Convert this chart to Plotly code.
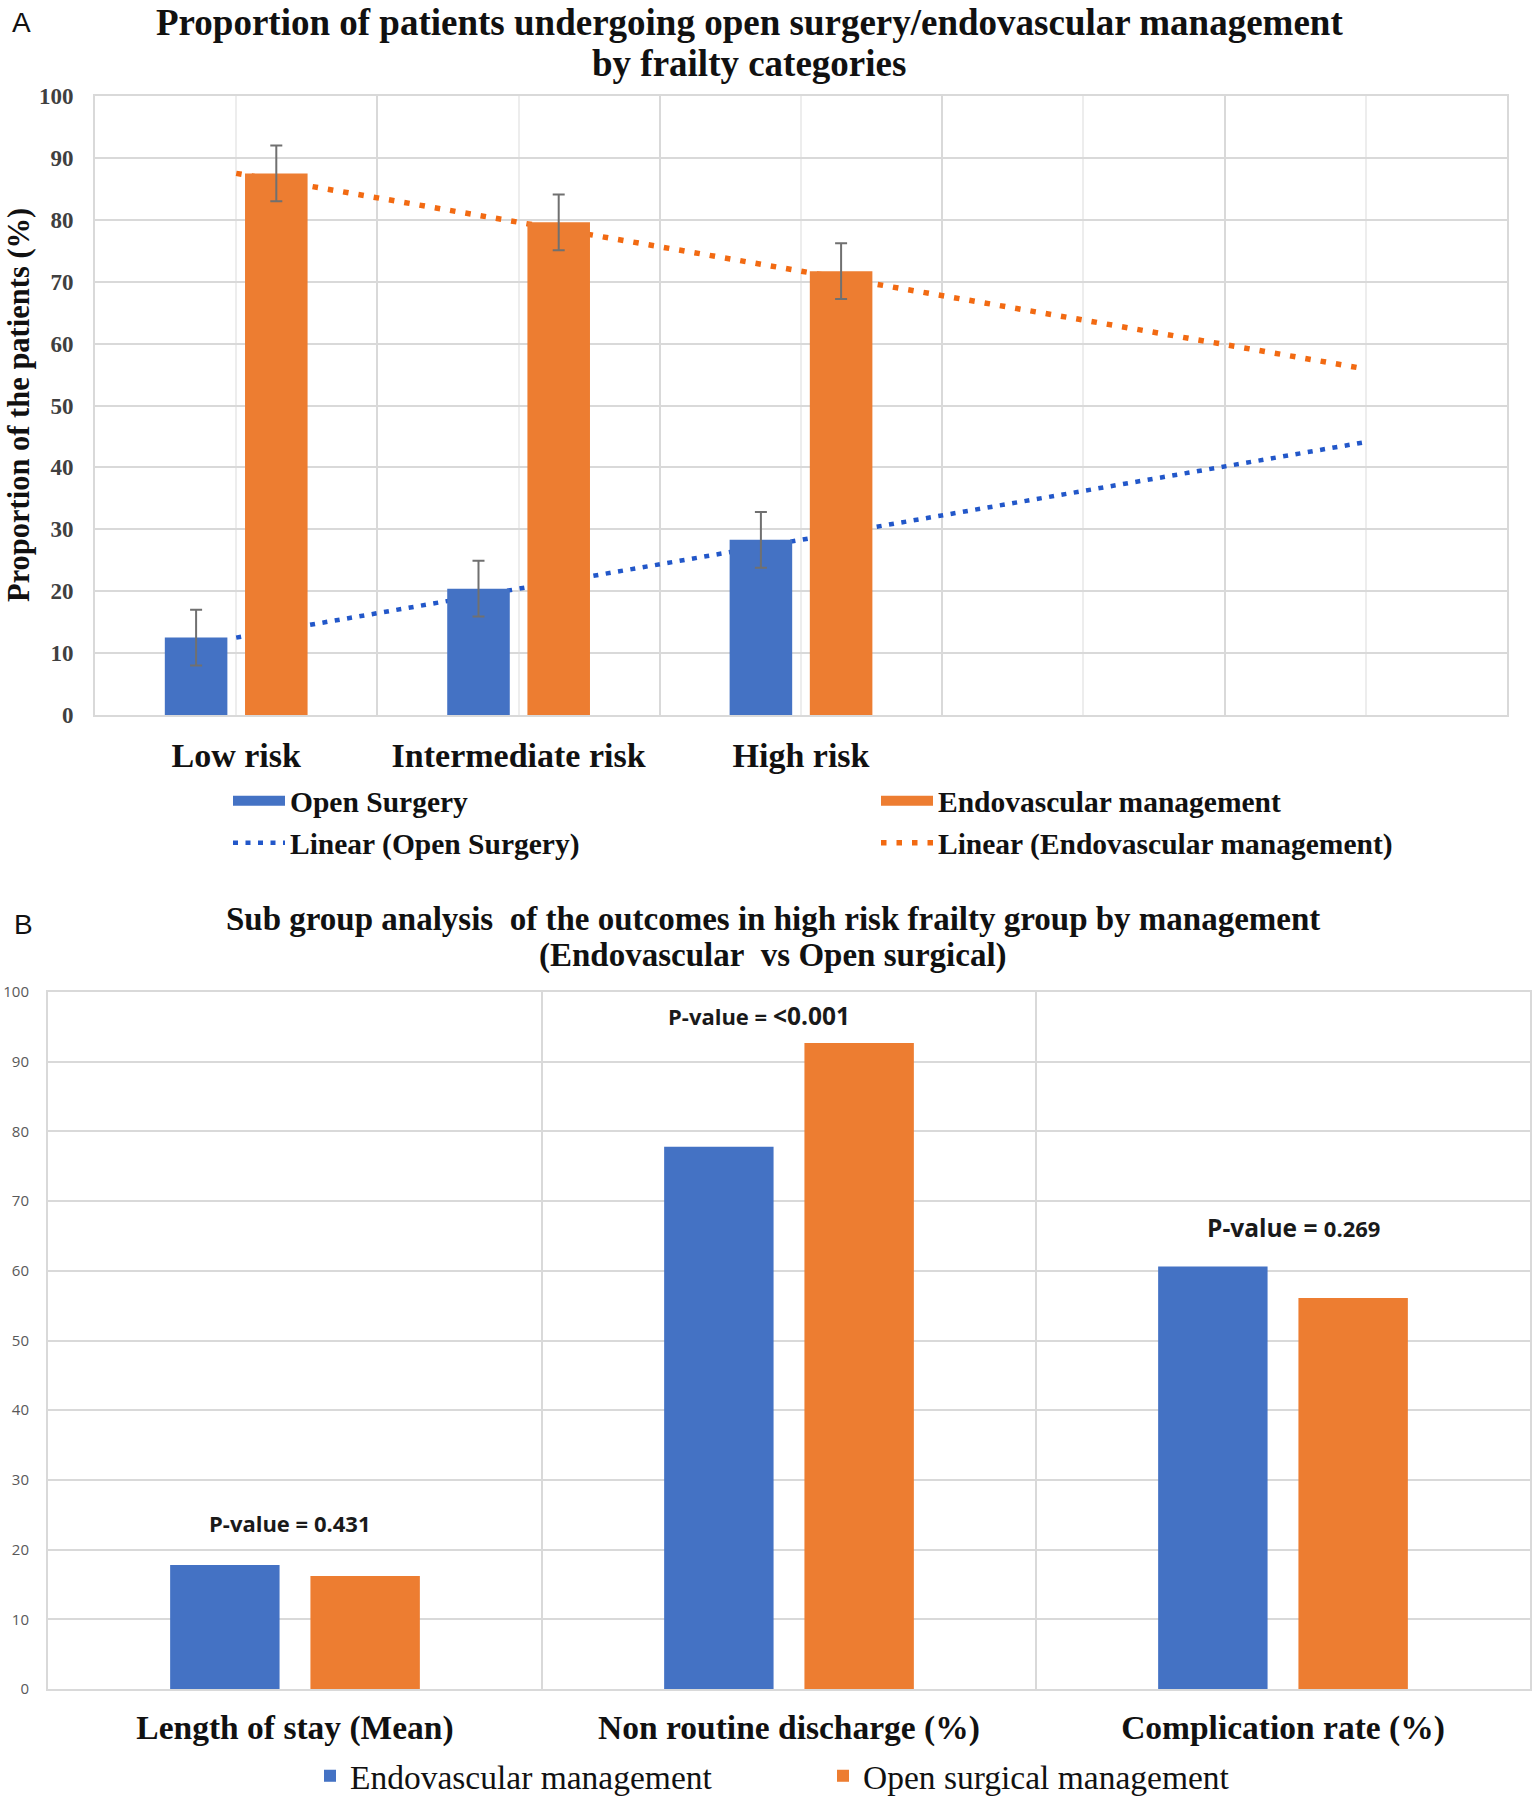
import numpy as np
import plotly.graph_objects as go

# ---------------- Panel A data ----------------
risk_categories = ["Low risk", "Intermediate risk", "High risk"]
open_surgery = [12.5, 20.4, 28.3]
endovascular = [87.5, 79.6, 71.7]
open_surgery_err = [4.5, 4.5, 4.5]
endovascular_err = [4.5, 4.5, 4.5]
n_slots = 5  # category slots on the axis (trendline forecast reaches slot 5)
y_ticks_a = list(range(0, 101, 10))

# ---------------- Panel B data ----------------
outcome_categories = ["Length of stay (Mean)", "Non routine discharge (%)", "Complication rate (%)"]
endo_outcomes = [17.8, 77.8, 60.6]
open_outcomes = [16.2, 92.7, 56.1]
p_values = ["0.431", "&lt;0.001", "0.269"]
p_label_y = [23.8, 96.7, 66.2]
p_label_shift = [-6, -30, 10]
p_label_size = [22, 22, 24.5]
p_value_size = [22, 24.5, 22]

# ---------------- style ----------------
W, H = 1533, 1800
BLUE = "#4472C4"
ORANGE = "#ED7D31"
BLUE_TREND = "#2257C9"
ORANGE_TREND = "#F26A12"
GRID = "#D9D9D9"
GRID_LIGHT = "#EDEDED"
SERIF = "Liberation Serif"
SANS = "Liberation Sans"
PSANS = "Open Sans"


def px_x(v):
    return v / W


def px_y(v):
    return 1 - v / H


fig = go.Figure()

# trendlines (computed linear fits) on base axes, drawn beneath bars
xs = np.arange(1, len(risk_categories) + 1)
slots = np.arange(1, n_slots + 1)
b_open = np.polyfit(xs, open_surgery, 1)
b_endo = np.polyfit(xs, endovascular, 1)

fig.add_trace(go.Scatter(x=[None], y=[None], mode="lines", name="Open Surgery",
                         line=dict(color=BLUE, width=17), legend="legend",
                         xaxis="x", yaxis="y"))
fig.add_trace(go.Scatter(x=[None], y=[None], mode="lines", name="Endovascular management",
                         line=dict(color=ORANGE, width=17), legend="legend2",
                         xaxis="x", yaxis="y"))
fig.add_trace(go.Scatter(x=slots, y=np.polyval(b_open, slots), mode="lines",
                         name="Linear (Open Surgery)", legend="legend3",
                         line=dict(color=BLUE_TREND, width=4.5, dash="5px,7.5px"),
                         xaxis="x", yaxis="y"))
fig.add_trace(go.Scatter(x=slots, y=np.polyval(b_endo, slots), mode="lines",
                         name="Linear (Endovascular management)", legend="legend4",
                         line=dict(color=ORANGE_TREND, width=5.5, dash="5.5px,10px"),
                         xaxis="x", yaxis="y"))

# bars on overlay axes (drawn above trendlines)
err_style = dict(type="data", visible=True, color="#707070", thickness=2, width=6)
fig.add_trace(go.Bar(x=xs, y=open_surgery, name="Open Surgery", marker_color=BLUE,
                     error_y=dict(array=open_surgery_err, **err_style),
                     showlegend=False, xaxis="x3", yaxis="y3"))
fig.add_trace(go.Bar(x=xs, y=endovascular, name="Endovascular management", marker_color=ORANGE,
                     error_y=dict(array=endovascular_err, **err_style),
                     showlegend=False, xaxis="x3", yaxis="y3"))

# Panel B bars
fig.add_trace(go.Bar(x=outcome_categories, y=endo_outcomes, name="Endovascular management",
                     marker_color=BLUE, legend="legend5", xaxis="x2", yaxis="y2"))
fig.add_trace(go.Bar(x=outcome_categories, y=open_outcomes, name="Open surgical management",
                     marker_color=ORANGE, legend="legend6", xaxis="x2", yaxis="y2"))

dom_ax = [px_x(95), px_x(1507)]
dom_ay = [px_y(715), px_y(96)]
dom_bx = [px_x(48), px_x(1530)]
dom_by = [px_y(1689), px_y(992)]


def paper_text(text, x, y, family, size, angle=0):
    return dict(text=text, x=px_x(x), y=px_y(y), xref="paper", yref="paper",
                xanchor="center", yanchor="middle", showarrow=False, textangle=angle,
                font=dict(family=family, size=size, color="#111111"))


annotations = [
    paper_text("A", 21, 22, SANS, 28),
    paper_text("<b>Proportion of patients undergoing open surgery/endovascular management</b>",
               749, 22, SERIF, 37),
    paper_text("<b>by frailty categories</b>", 749, 63, SERIF, 37),
    paper_text("<b>Proportion of the patients (%)</b>", 19, 405, SERIF, 30.5, angle=-90),
    paper_text("B", 23, 924, SANS, 28),
    paper_text("<b>Sub group analysis\u00a0 of the outcomes in high risk frailty group by management</b>",
               773, 919, SERIF, 33),
    paper_text("<b>(Endovascular\u00a0 vs Open surgical)</b>", 773, 955, SERIF, 33),
]
for cat, pv, yv, sh, lsz, vsz in zip(outcome_categories, p_values, p_label_y, p_label_shift,
                                     p_label_size, p_value_size):
    annotations.append(dict(
        text=f"<b>P-value = <span style='font-size:{vsz}px'>{pv}</span></b>",
        x=cat, y=yv, xref="x2", yref="y2", xshift=sh, showarrow=False,
        xanchor="center", yanchor="middle",
        font=dict(family=PSANS, size=lsz, color="#1a1a1a")))


def legend_at(x, y, size, bold=True, itemwidth=52):
    font = dict(family=SERIF, size=size, color="#111111")
    if bold:
        font["weight"] = "bold"
    return dict(orientation="v", x=px_x(x), xanchor="left", y=px_y(y), yanchor="middle",
                itemwidth=itemwidth, bgcolor="rgba(0,0,0,0)", borderwidth=0, font=font)


fig.update_layout(
    template="none",
    width=W, height=H,
    margin=dict(l=0, r=0, t=0, b=0, pad=0, autoexpand=False),
    paper_bgcolor="white", plot_bgcolor="white",
    barmode="group", bargap=0.432, bargroupgap=0.22,
    annotations=annotations,
    xaxis=dict(domain=dom_ax, range=[0.5, n_slots + 0.5], anchor="y", automargin=False,
               tickmode="array", tickvals=list(slots),
               ticktext=risk_categories + [""] * (n_slots - len(risk_categories)),
               showgrid=True, gridcolor=GRID_LIGHT, gridwidth=1.5,
               minor=dict(tickmode="array", tickvals=list(np.arange(1.5, n_slots, 1.0)),
                          showgrid=True, gridcolor=GRID, gridwidth=2, ticks=""),
               showline=True, mirror=True, linecolor=GRID, linewidth=2,
               ticks="", ticklabelstandoff=9, zeroline=False,
               tickfont=dict(family=SERIF, size=34, color="#111111", weight="bold")),
    yaxis=dict(domain=dom_ay, range=[0, 100], anchor="x", automargin=False,
               tickmode="array", tickvals=y_ticks_a,
               showgrid=True, gridcolor=GRID, gridwidth=1.5,
               showline=True, mirror=True, linecolor=GRID, linewidth=2,
               ticks="", ticklabelstandoff=15, zeroline=False,
               tickfont=dict(family=SERIF, size=23, color="#404040", weight="bold")),
    xaxis3=dict(overlaying="x", range=[0.5, n_slots + 0.5], visible=False, anchor="y3"),
    yaxis3=dict(overlaying="y", range=[0, 100], visible=False, anchor="x3"),
    xaxis2=dict(domain=dom_bx, anchor="y2", type="category", tickson="boundaries", automargin=False,
                showgrid=True, gridcolor=GRID, gridwidth=1.5,
                showline=True, mirror=True, linecolor=GRID, linewidth=2,
                ticks="", ticklabelstandoff=8,
                tickfont=dict(family=SERIF, size=33.5, color="#111111", weight="bold")),
    yaxis2=dict(domain=dom_by, range=[0, 100], anchor="x2", dtick=10, automargin=False,
                showgrid=True, gridcolor=GRID, gridwidth=1.5,
                showline=True, mirror=True, linecolor=GRID, linewidth=2,
                ticks="", ticklabelstandoff=14, zeroline=False,
                tickfont=dict(family="Open Sans", size=15, color="#595959")),
    legend=legend_at(228, 801, 29.5),
    legend2=legend_at(876, 801, 29.5),
    legend3=legend_at(228, 843, 29.5),
    legend4=legend_at(876, 843, 29.5),
    legend5=legend_at(310, 1776, 33.5, bold=False, itemwidth=30),
    legend6=legend_at(823, 1776, 33.5, bold=False, itemwidth=30),
)

fig.write_html("out.html", config={"displayModeBar": False},
               post_script="document.body.style.margin='0px';")
